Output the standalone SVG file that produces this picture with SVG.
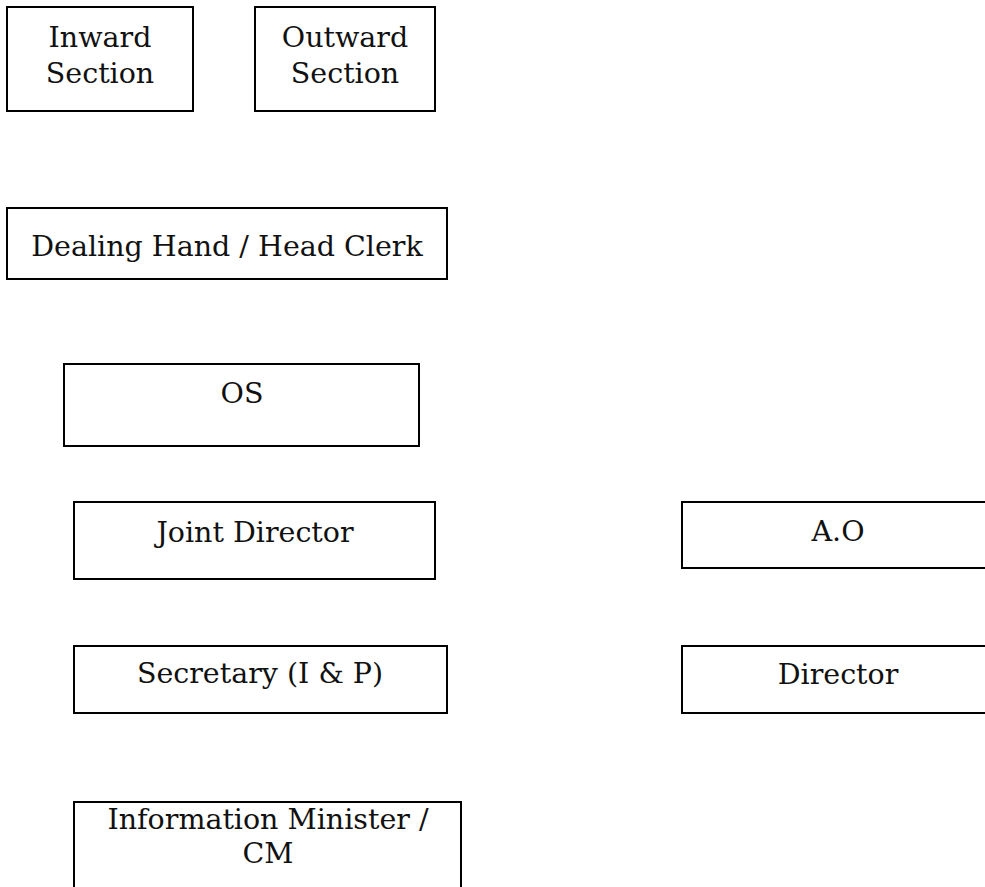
<svg xmlns="http://www.w3.org/2000/svg" width="985" height="887" viewBox="0 0 985 887">
<style>
.b{fill:#fff;stroke:#000;stroke-width:2}
text{font-family:"DejaVu Serif","Liberation Serif",serif;font-size:28.5px;fill:#111;text-anchor:middle}
</style>
<rect width="985" height="887" fill="#fff"/>
<g id="inward"><rect class="b" x="7" y="7" width="186" height="104"/><text x="100" y="47">Inward</text><text x="100" y="83">Section</text></g>
<g id="outward"><rect class="b" x="255" y="7" width="180" height="104"/><text x="345" y="47">Outward</text><text x="345" y="83">Section</text></g>
<g id="dealing"><rect class="b" x="7" y="208" width="440" height="71"/><text x="227" y="256">Dealing Hand / Head Clerk</text></g>
<g id="os"><rect class="b" x="64" y="364" width="355" height="82"/><text x="242" y="403">OS</text></g>
<g id="joint"><rect class="b" x="74" y="502" width="361" height="77"/><text x="255" y="542">Joint Director</text></g>
<g id="ao"><rect class="b" x="682" y="502" width="312" height="66"/><text x="838" y="541">A.O</text></g>
<g id="secretary"><rect class="b" x="74" y="646" width="373" height="67"/><text x="260" y="683">Secretary (I &amp; P)</text></g>
<g id="director"><rect class="b" x="682" y="646" width="312" height="67"/><text x="838" y="684">Director</text></g>
<g id="minister"><rect class="b" x="74" y="802" width="387" height="100"/><text x="268" y="829">Information Minister /</text><text x="268" y="863">CM</text></g>
<g id="connectors"></g>
</svg>
